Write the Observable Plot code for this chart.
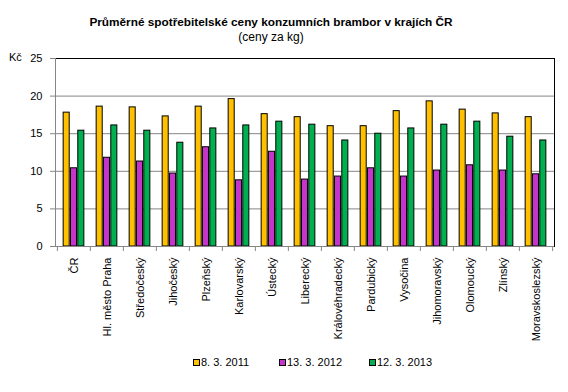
<!DOCTYPE html>
<html>
<head>
<meta charset="utf-8">
<script src="https://cdn.jsdelivr.net/npm/d3@7"></script>
<script src="https://cdn.jsdelivr.net/npm/@observablehq/plot@0.6"></script>
<style>
  body { margin: 0; background: #fff; font-family: "Liberation Sans", Arial, sans-serif; }
  #wrap { position: relative; width: 568px; height: 392px; overflow: hidden; }
  .title { position: absolute; left: 0; width: 542px; top: 15px; text-align: center; font-size: 11.8px; font-weight: bold; color: #000; }
  .subtitle { position: absolute; left: 0; width: 542px; top: 30px; text-align: center; font-size: 12px; color: #000; }
  .unit { position: absolute; left: 9px; top: 51px; font-size: 11px; color: #000; }
  .legend { position: absolute; top: 356px; left: 0; width: 568px; font-size: 11px; color: #000; }
  .legend span.item { position: absolute; white-space: nowrap; }
  .legend i { display: inline-block; width: 5px; height: 5px; border: 1px solid #000; margin-right: 1px; vertical-align: 0px; }
  svg { position: absolute; left: 0; top: 0; }
</style>
</head>
<body>
<div id="wrap"></div>
<script>
const regions = ["ČR", "Hl. město Praha", "Středočeský", "Jihočeský", "Plzeňský", "Karlovarský", "Ústecký", "Liberecký", "Královéhradecký", "Pardubický", "Vysočina", "Jihomoravský", "Olomoucký", "Zlínský", "Moravskoslezský"];
const seriesNames = ["8. 3. 2011", "13. 3. 2012", "12. 3. 2013"];
const values2011 = [17.8, 18.6, 18.5, 17.3, 18.6, 19.6, 17.6, 17.2, 16.0, 16.0, 18.0, 19.3, 18.2, 17.7, 17.2];
const values2012 = [10.4, 11.8, 11.3, 9.7, 13.2, 8.8, 12.6, 8.9, 9.3, 10.4, 9.3, 10.1, 10.8, 10.1, 9.6];
const values2013 = [15.4, 16.1, 15.4, 13.8, 15.7, 16.1, 16.6, 16.2, 14.1, 15.0, 15.7, 16.2, 16.6, 14.6, 14.1];
const yTicks = [0, 5, 10, 15, 20, 25];
const colors = ["#FFC000", "#C535CC", "#00B050"];

const W = 568, H = 392;
const mL = 55, mR = 14, mT = 58, mB = 146;
const step = (W - mL - mR) / regions.length;
const bw = step * 0.22;
const off = (step - 3 * bw) / 2;

const seriesVals = [values2011, values2012, values2013];
const barMarks = seriesVals.map((vals, k) =>
  Plot.barY(regions.map((r, i) => ({region: r, value: vals[i]})), {
    x: "region", y: "value",
    fill: colors[k], stroke: "#000", strokeWidth: 1,
    insetLeft: off + k * bw + 0.5,
    insetRight: step - off - (k + 1) * bw + 0.5
  })
);

const chart = Plot.plot({
  width: W, height: H,
  marginLeft: mL, marginRight: mR, marginTop: mT, marginBottom: mB,
  style: {fontFamily: "Liberation Sans, Arial, sans-serif", fontSize: "11px", color: "#000", background: "transparent"},
  x: {type: "band", domain: regions, padding: 0},
  y: {domain: [0, 25], ticks: yTicks},
  marks: [
    Plot.ruleY(yTicks.filter(t => t > 0 && t < 25), {stroke: "#868686", strokeWidth: 1}),
    ...barMarks,
    Plot.ruleY([25], {stroke: "#000", strokeWidth: 1}),
    Plot.frame({anchor: "right", stroke: "#000", strokeOpacity: 1}),
    Plot.ruleY([0], {stroke: "#868686", strokeWidth: 1}),
    Plot.frame({anchor: "left", stroke: "#868686", strokeOpacity: 1}),
    Plot.axisY({ticks: yTicks, tickSize: 5, tickPadding: 8, label: null, stroke: "#868686", fontSize: 11}),
    Plot.axisX({tickSize: 0, tickPadding: 11, tickRotate: -90, label: null, fontSize: 11}),
    Plot.axisX({tickSize: 5, dx: -step / 2, text: null, label: null, stroke: "#868686"}),
    Plot.axisX([regions[regions.length - 1]], {tickSize: 5, dx: step / 2, text: null, label: null, stroke: "#868686"})
  ]
});

const wrap = document.getElementById("wrap");
wrap.appendChild(chart);

const t = document.createElement("div");
t.className = "title";
t.textContent = "Průměrné spotřebitelské ceny konzumních brambor v krajích ČR";
wrap.appendChild(t);
const st = document.createElement("div");
st.className = "subtitle";
st.textContent = "(ceny za kg)";
wrap.appendChild(st);
const u = document.createElement("div");
u.className = "unit";
u.textContent = "Kč";
wrap.appendChild(u);

const lg = document.createElement("div");
lg.className = "legend";
const legendX = [193, 279, 369];
seriesNames.forEach((name, k) => {
  const s = document.createElement("span");
  s.className = "item";
  s.style.left = legendX[k] + "px";
  const sw = document.createElement("i");
  sw.style.background = colors[k];
  s.appendChild(sw);
  s.appendChild(document.createTextNode(name));
  lg.appendChild(s);
});
wrap.appendChild(lg);
</script>
</body>
</html>
